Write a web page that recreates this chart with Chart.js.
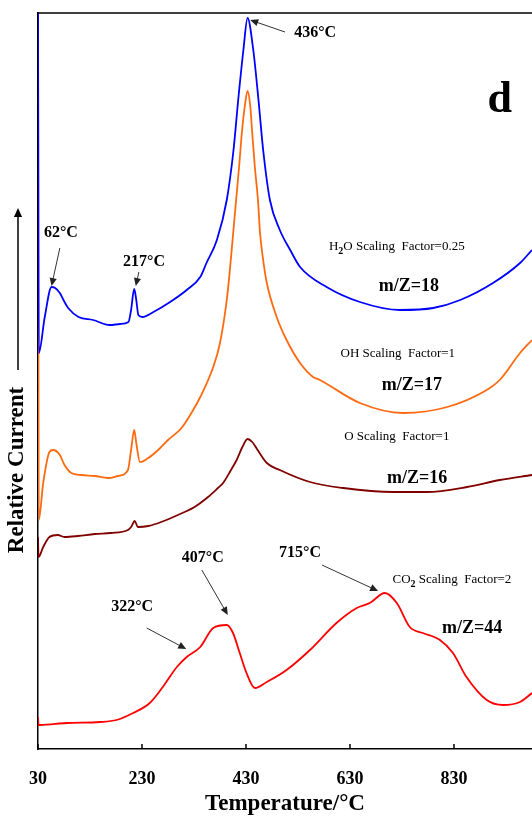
<!DOCTYPE html>
<html>
<head>
<meta charset="utf-8">
<script src="https://cdn.jsdelivr.net/npm/chart.js@4.4.0/dist/chart.umd.min.js"></script>
<style>
  body { margin: 0; background: #fff; }
  #wrap { width: 532px; height: 816px; }
</style>
</head>
<body>
<div id="wrap"><canvas id="myChart" width="532" height="816"></canvas></div>
<script>
// temperature ticks on the x axis
const xTicks = [30, 230, 430, 630, 830];

// m/Z=18 (H2O, scaling factor 0.25)
const h2oTemp = [30, 31.5, 43, 56, 63, 72, 80, 88, 108, 136, 168, 188, 204, 209, 215, 219, 223, 231, 252, 284, 316, 342, 354, 374, 393, 406, 415, 425, 433, 444, 454, 463, 476, 495, 515, 534, 585, 649, 726, 790, 842, 905, 957, 980];
const h2oVal  = [760, 396, 432, 462, 461, 456, 448, 441, 432, 429, 424, 425, 427, 439, 460, 449, 434, 432, 437, 447, 459, 472, 486, 509, 549, 599, 649, 699, 731, 699, 649, 599, 549, 519, 499, 482, 462, 447, 439, 441, 449, 466, 486, 499];

// m/Z=17 (OH, scaling factor 1)
const ohTemp = [30, 31.5, 40, 52, 59, 72, 81, 94, 113, 139, 165, 184, 203, 209, 215, 219, 226, 242, 261, 280, 306, 325, 342, 367, 380, 393, 399, 405, 411, 417, 422, 428, 433, 438, 442, 447, 453, 457, 463, 470, 489, 508, 534, 559, 572, 649, 732, 817, 893, 918, 957, 980];
const ohVal  = [760, 229, 266, 297, 299, 294, 284, 276, 274, 273, 271, 273, 279, 299, 319, 306, 287, 291, 299, 309, 321, 336, 352, 382, 406, 449, 479, 514, 549, 584, 616, 644, 658, 644, 616, 582, 549, 516, 489, 466, 432, 409, 386, 372, 369, 346, 336, 342, 359, 369, 396, 409];

// m/Z=16 (O, scaling factor 1)
const oTemp = [30, 31, 40, 52, 68, 81, 107, 139, 170, 203, 209, 216, 222, 242, 267, 299, 331, 357, 376, 386, 400, 412, 423, 433, 442, 451, 470, 495, 553, 617, 713, 778, 855, 918, 980];
const oVal  = [212, 192, 202, 212, 214, 212, 213, 215, 216, 219, 222, 228, 222, 223, 227, 234, 242, 252, 261, 266, 278, 289, 302, 310, 307, 300, 286, 279, 267, 261, 257, 257, 262, 269, 274];

// m/Z=44 (CO2, scaling factor 2)
const co2Temp = [30, 31, 34, 85, 149, 181, 213, 245, 270, 297, 316, 342, 367, 393, 405, 418, 431, 447, 470, 508, 553, 604, 643, 668, 697, 720, 745, 770, 803, 828, 854, 893, 924, 957, 980];
const co2Val  = [32, 24, 24, 26, 27, 29, 36, 46, 62, 82, 92, 102, 121, 124, 116, 96, 76, 61, 67, 79, 99, 126, 141, 146, 156, 146, 122, 116, 109, 96, 72, 49, 44, 47, 56];

// peak labels with arrows (data coordinates)
const peakLabels = [
  { text: '436°C', at: [563, 716], from: [505, 717], to: [438, 729] },
  { text: '62°C',  at: [74, 516],  from: [72, 501],  to: [56, 463] },
  { text: '217°C', at: [234, 487], from: [224, 477], to: [218, 463] },
  { text: '715°C', at: [534, 196], from: [576, 184], to: [684, 158] },
  { text: '407°C', at: [347, 191], from: [345, 179], to: [395, 134] },
  { text: '322°C', at: [211, 142], from: [239, 121], to: [315, 100] }
];

// curve notes
const seriesNotes = [
  { parts: [['H'], ['2', 1], ['O Scaling  Factor=0.25']], at: [720, 502] },
  { parts: [['OH Scaling  Factor=1']], at: [722, 395] },
  { parts: [['O Scaling  Factor=1']], at: [720, 312] },
  { parts: [['CO'], ['2', 1], [' Scaling  Factor=2']], at: [826, 169] }
];
const massLabels = [
  { text: 'm/Z=18', at: [743, 463] },
  { text: 'm/Z=17', at: [749, 364] },
  { text: 'm/Z=16', at: [759, 271] },
  { text: 'm/Z=44', at: [865, 121] }
];

const pairs = (t, v) => t.map((x, i) => ({ x: x, y: v[i] }));
const SERIF = "'Liberation Serif', 'Times New Roman', serif";

const extras = {
  id: 'extras',
  afterDraw(chart) {
    const { ctx, chartArea: a, scales: { x, y } } = chart;
    const px = t => x.getPixelForValue(t);
    const py = v => y.getPixelForValue(v);
    ctx.save();

    // top frame line and inward ticks
    ctx.strokeStyle = '#000';
    ctx.lineWidth = 1.5;
    ctx.beginPath();
    ctx.moveTo(a.left, a.top);
    ctx.lineTo(a.right, a.top);
    xTicks.forEach(t => {
      ctx.moveTo(px(t), a.bottom);
      ctx.lineTo(px(t), a.bottom - 5);
    });
    ctx.stroke();

    const arrow = (x1, y1, x2, y2, head) => {
      const ang = Math.atan2(y2 - y1, x2 - x1);
      ctx.beginPath();
      ctx.moveTo(x1, y1);
      ctx.lineTo(x2 - Math.cos(ang) * head * 0.8, y2 - Math.sin(ang) * head * 0.8);
      ctx.stroke();
      ctx.beginPath();
      ctx.moveTo(x2, y2);
      ctx.lineTo(x2 - head * Math.cos(ang) + head * 0.45 * Math.sin(ang), y2 - head * Math.sin(ang) - head * 0.45 * Math.cos(ang));
      ctx.lineTo(x2 - head * Math.cos(ang) - head * 0.45 * Math.sin(ang), y2 - head * Math.sin(ang) + head * 0.45 * Math.cos(ang));
      ctx.closePath();
      ctx.fill();
    };

    // y axis title with long arrow
    ctx.fillStyle = '#000';
    ctx.save();
    ctx.translate(17, 470);
    ctx.rotate(-Math.PI / 2);
    ctx.font = 'bold 23px ' + SERIF;
    ctx.textAlign = 'center';
    ctx.textBaseline = 'middle';
    ctx.fillText('Relative Current', 0, 0);
    ctx.restore();
    ctx.lineWidth = 1.5;
    arrow(18, 370, 18, 208, 9);

    // peak labels
    ctx.textAlign = 'center';
    ctx.textBaseline = 'middle';
    ctx.font = 'bold 16px ' + SERIF;
    ctx.strokeStyle = '#333';
    ctx.lineWidth = 1;
    peakLabels.forEach(p => {
      ctx.fillStyle = '#000';
      ctx.fillText(p.text, px(p.at[0]), py(p.at[1]));
      ctx.fillStyle = '#222';
      arrow(px(p.from[0]), py(p.from[1]), px(p.to[0]), py(p.to[1]), 8);
    });

    // scaling factor notes (with subscripts)
    ctx.fillStyle = '#000';
    ctx.textAlign = 'left';
    seriesNotes.forEach(n => {
      let w = 0;
      n.parts.forEach(p => {
        ctx.font = (p[1] ? 'bold 10px ' : '13px ') + SERIF;
        w += ctx.measureText(p[0]).width;
      });
      let cx = px(n.at[0]) - w / 2;
      const cy = py(n.at[1]);
      n.parts.forEach(p => {
        ctx.font = (p[1] ? 'bold 10px ' : '13px ') + SERIF;
        ctx.fillText(p[0], cx, cy + (p[1] ? 4 : 0));
        cx += ctx.measureText(p[0]).width;
      });
    });

    ctx.textAlign = 'center';
    ctx.font = 'bold 18px ' + SERIF;
    massLabels.forEach(m => ctx.fillText(m.text, px(m.at[0]), py(m.at[1])));

    // panel letter
    ctx.font = 'bold 44px ' + SERIF;
    ctx.fillText('d', px(918), py(648));
    ctx.restore();
  }
};

const ctx = document.getElementById('myChart').getContext('2d');
let myChart = new Chart(ctx, {
  type: 'line',
  data: {
    datasets: [
      { label: 'm/Z=18', data: pairs(h2oTemp, h2oVal), borderColor: '#0000ff' },
      { label: 'm/Z=17', data: pairs(ohTemp, ohVal), borderColor: '#ff6a10' },
      { label: 'm/Z=16', data: pairs(oTemp, oVal), borderColor: '#800000' },
      { label: 'm/Z=44', data: pairs(co2Temp, co2Val), borderColor: '#ff0000' }
    ]
  },
  options: {
    responsive: false,
    animation: false,
    layout: { padding: { top: 13, right: 0, bottom: 0, left: 0 } },
    elements: {
      point: { radius: 0 },
      line: { borderWidth: 1.8, tension: 0.25, cubicInterpolationMode: 'monotone' }
    },
    plugins: { legend: { display: false }, tooltip: { enabled: false } },
    scales: {
      x: {
        type: 'linear',
        min: 30,
        max: 980,
        afterBuildTicks: scale => { scale.ticks = xTicks.map(v => ({ value: v })); },
        afterFit: scale => { scale.height = 67; },
        grid: { display: false, drawTicks: false },
        border: { color: '#000', width: 1.5 },
        ticks: {
          color: '#000',
          padding: 20,
          maxRotation: 0,
          font: { family: SERIF, weight: 'bold', size: 18 }
        },
        title: {
          display: true,
          text: 'Temperature/°C',
          color: '#000',
          padding: { top: 0, bottom: 0 },
          font: { family: SERIF, weight: 'bold', size: 23, lineHeight: 1 }
        }
      },
      y: {
        type: 'linear',
        min: 0,
        max: 736,
        afterFit: scale => { scale.width = 38; },
        grid: { display: false, drawTicks: false },
        border: { color: '#000', width: 1.5 },
        ticks: { display: false }
      }
    }
  },
  plugins: [extras]
});
</script>
</body>
</html>
